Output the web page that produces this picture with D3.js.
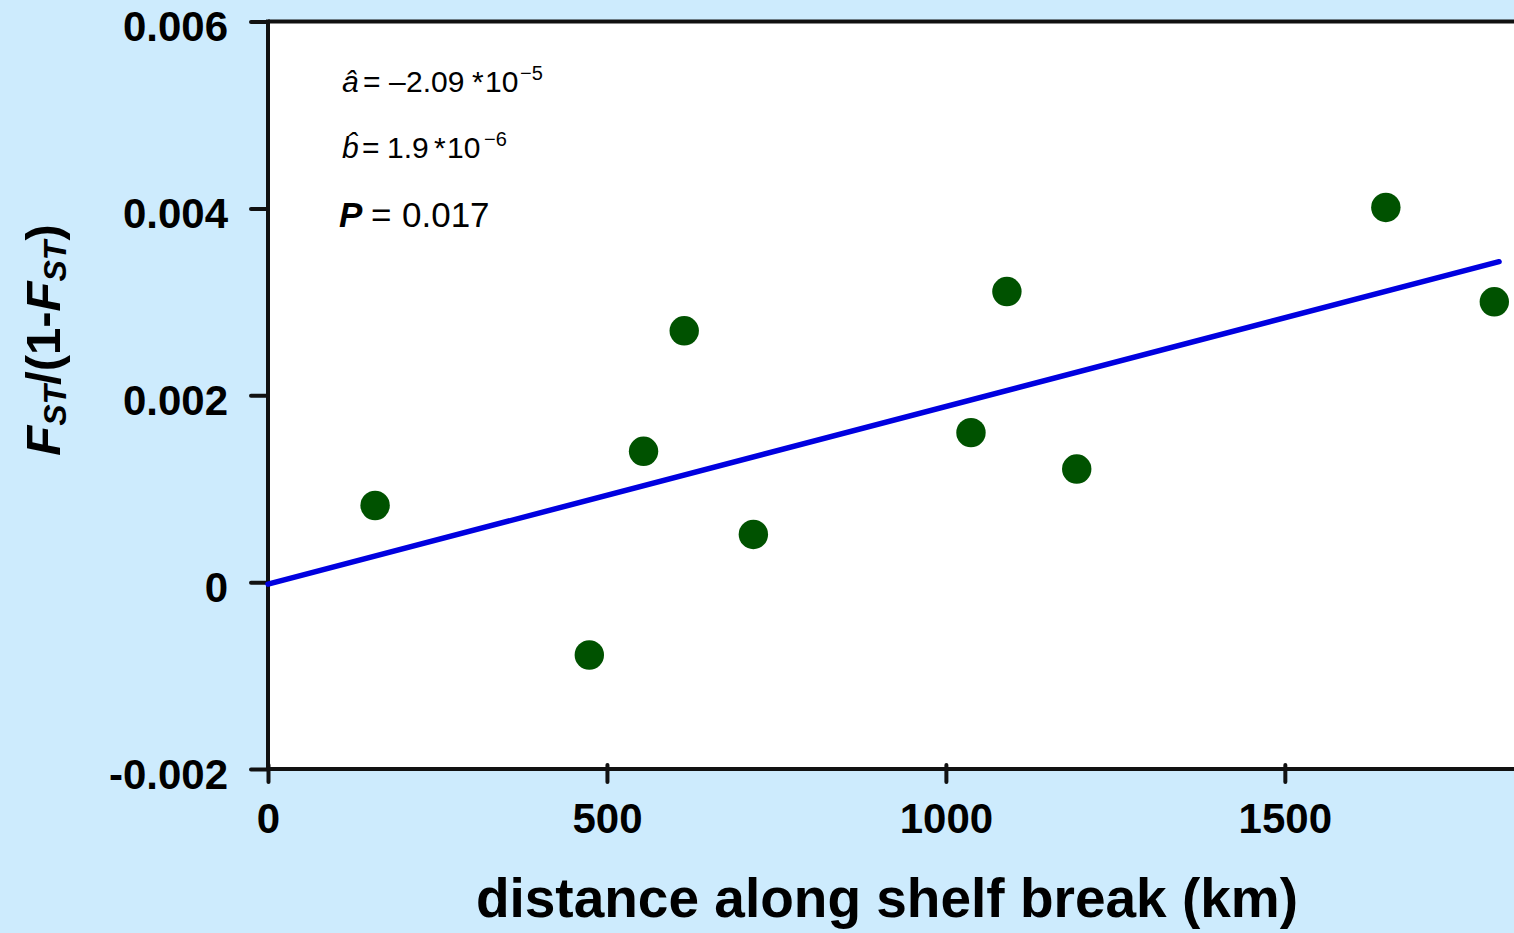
<!DOCTYPE html>
<html>
<head>
<meta charset="utf-8">
<script src="https://cdn.jsdelivr.net/npm/d3@7"></script>
<style>
  html, body { margin: 0; padding: 0; background: #cdebfd; }
  svg { display: block; }
  text { font-family: "Liberation Sans", Arial, Helvetica, sans-serif; }
</style>
</head>
<body>
<svg id="chart" width="1514" height="933"></svg>
<script>
// ---- data ----
const distanceKm = [158, 474, 554, 614, 716, 1037, 1090, 1193, 1649, 1809];
const fstRatio   = [0.00082, -0.00078, 0.00140, 0.00269, 0.00051, 0.00160, 0.00311, 0.00121, 0.00401, 0.00300];
const xTicks = [0, 500, 1000, 1500];
const yTicks = [-0.002, 0, 0.002, 0.004, 0.006];
const yTickLabels = ["-0.002", "0", "0.002", "0.004", "0.006"];
const interceptA = -2.09e-5;
const slopeB = 1.9e-6;
const fitRange = [0, 1816];
const pValue = "0.017";

// ---- layout ----
const W = 1514, H = 933;
const mLeft = 268, mTop = 21.5, mBottom = 769, mRight = 1516;
const svg = d3.select("#chart");

const x = d3.scaleLinear().domain([0, 1841]).range([mLeft, mRight]);
const y = d3.scaleLinear().domain([-0.002, 0.006]).range([mBottom, mTop]);

svg.append("rect").attr("width", W).attr("height", H).attr("fill", "#cdebfd");
svg.append("rect").attr("x", mLeft).attr("y", mTop).attr("width", mRight - mLeft).attr("height", mBottom - mTop).attr("fill", "#ffffff");

// top border
svg.append("line").attr("x1", mLeft).attr("x2", W + 5).attr("y1", mTop).attr("y2", mTop)
  .attr("stroke", "#111").attr("stroke-width", 4);

// x axis
const xAxis = svg.append("g").attr("transform", `translate(0,${mBottom})`)
  .call(d3.axisBottom(x).tickValues(xTicks).tickSize(0).tickFormat(d3.format("d")));
xAxis.select(".domain").remove();
xAxis.selectAll(".tick text").remove();
xAxis.selectAll(".tick").append("line")
  .attr("y1", -4).attr("y2", 13).attr("stroke", "#111").attr("stroke-width", 4).attr("stroke-linecap", "round");
xAxis.selectAll(".tick").append("text")
  .attr("y", 64).attr("fill", "#000").attr("text-anchor", "middle")
  .style("font-size", "42px").style("font-weight", "bold")
  .text(d => d3.format("d")(d));
svg.append("line").attr("x1", mLeft - 2).attr("x2", W + 5).attr("y1", mBottom).attr("y2", mBottom)
  .attr("stroke", "#111").attr("stroke-width", 4);

// y axis
const yAxis = svg.append("g").attr("transform", `translate(${mLeft},0)`)
  .call(d3.axisLeft(y).tickValues(yTicks).tickSize(0).tickFormat((d, i) => yTickLabels[i]));
yAxis.select(".domain").remove();
yAxis.selectAll(".tick text").remove();
yAxis.selectAll(".tick").append("line")
  .attr("x1", -17).attr("x2", 0).attr("stroke", "#111").attr("stroke-width", 4).attr("stroke-linecap", "round");
yAxis.selectAll(".tick").append("text")
  .attr("x", -40).attr("y", 19).attr("fill", "#000").attr("text-anchor", "end")
  .style("font-size", "42px").style("font-weight", "bold")
  .text((d, i) => yTickLabels[i]);
svg.append("line").attr("x1", mLeft).attr("x2", mLeft).attr("y1", mTop - 2).attr("y2", mBottom + 2)
  .attr("stroke", "#111").attr("stroke-width", 4);

// fitted regression line
const fit = fitRange.map(d => [d, interceptA + slopeB * d]);
svg.append("path")
  .datum(fit)
  .attr("d", d3.line().x(d => x(d[0])).y(d => y(d[1])))
  .attr("fill", "none").attr("stroke", "#0000e0").attr("stroke-width", 5.5).attr("stroke-linecap", "round");

// points
svg.append("g").selectAll("circle")
  .data(distanceKm.map((d, i) => [d, fstRatio[i]]))
  .join("circle")
  .attr("cx", d => x(d[0])).attr("cy", d => y(d[1])).attr("r", 14.7)
  .attr("fill", "#005200");

// annotations
const ann = svg.append("g").style("fill", "#000");
function row(baseline, parts) {
  const t = ann.append("text").attr("y", baseline);
  parts.forEach(p => {
    const s = t.append("tspan").attr("x", p.x).attr("y", baseline + (p.dy || 0)).text(p.t)
      .style("font-size", p.size + "px");
    if (p.italic) s.style("font-style", "italic");
    if (p.bold) s.style("font-weight", "bold");
  });
}
row(92, [
  {t: "a\u0302", x: 342, size: 30, italic: true},
  {t: "=", x: 363, size: 30},
  {t: "\u2013", x: 389, size: 30},
  {t: "2.09", x: 406, size: 30},
  {t: "*", x: 472, size: 30},
  {t: "10", x: 485, size: 30},
  {t: "\u22125", x: 520, size: 20, dy: -12}
]);
row(158, [
  {t: "b\u0302", x: 342, size: 30, italic: true},
  {t: "=", x: 362, size: 30},
  {t: "1.9", x: 387, size: 30},
  {t: "*", x: 434, size: 30},
  {t: "10", x: 447, size: 30},
  {t: "\u22126", x: 484, size: 20, dy: -12}
]);
row(227, [
  {t: "P", x: 339, size: 35, italic: true, bold: true},
  {t: "=", x: 371, size: 35},
  {t: pValue, x: 402, size: 35}
]);

// x axis title
svg.append("text").attr("x", 887).attr("y", 917).attr("text-anchor", "middle")
  .style("font-size", "55px").style("font-weight", "bold").attr("fill", "#000")
  .text("distance along shelf break (km)");

// y axis title
const yt = svg.append("text")
  .attr("transform", "translate(60,340) rotate(-90)")
  .attr("text-anchor", "middle").attr("fill", "#000")
  .style("font-size", "49px").style("font-weight", "bold");
yt.append("tspan").style("font-style", "italic").text("F");
yt.append("tspan").style("font-style", "italic").style("font-size", "32px").attr("dy", 6).text("ST");
yt.append("tspan").attr("dy", -6).text("/(1-");
yt.append("tspan").style("font-style", "italic").text("F");
yt.append("tspan").style("font-style", "italic").style("font-size", "32px").attr("dy", 6).text("ST");
yt.append("tspan").attr("dy", -6).text(")");
</script>
</body>
</html>
